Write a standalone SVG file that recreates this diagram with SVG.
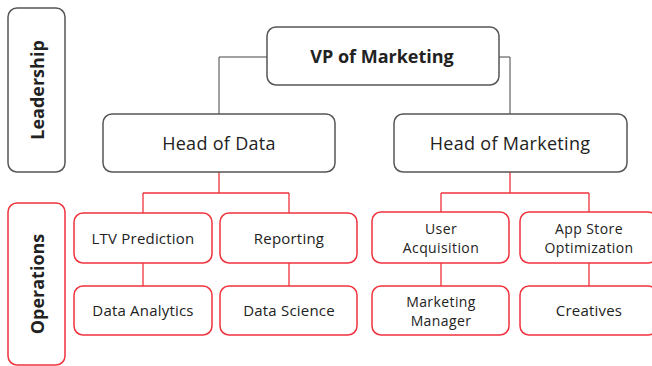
<svg xmlns="http://www.w3.org/2000/svg" width="652" height="366" viewBox="0 0 652 366">
<style>
.lead{fill:#fff;stroke:#555;stroke-width:1.5}
.op{fill:#fff;stroke:#f0323c;stroke-width:1.5}
.t{font-family:"Open Sans","Liberation Sans",sans-serif;fill:#222;text-anchor:middle;dominant-baseline:central}
.big{font-size:18px;letter-spacing:0.3px}
.sm{font-size:15px;letter-spacing:0.2px}
.two{font-size:14px;letter-spacing:0.4px}
.bold{font-weight:bold;letter-spacing:0}
.cg{fill:none;stroke:#444;stroke-width:1}
.cr{fill:none;stroke:#f0323c;stroke-width:1.3}
</style>
<rect width="652" height="366" fill="#fff"/>
<g id="connectors">
<path class="cg" d="M267 57H219V114"/>
<path class="cg" d="M499 57H510V114"/>
<path class="cr" d="M219 172V193M143 193H289M143 193V213M289 193V213"/>
<path class="cr" d="M510 172V193M441 193H589M441 193V212M589 193V212"/>
<path class="cr" d="M143 263V286M289 263V286M441 263V286M589 263V286"/>
</g>
<g id="leadership"><rect class="lead" x="8" y="8" width="57" height="164" rx="9"/><text class="t big bold" transform="translate(37 90) rotate(-90)">Leadership</text></g>
<g id="operations"><rect class="op" x="8" y="203" width="57" height="162" rx="9"/><text class="t big bold" transform="translate(37 284) rotate(-90)">Operations</text></g>
<g id="vp"><rect class="lead" x="267" y="27" width="232" height="58" rx="9"/><text class="t big bold" x="382" y="56">VP of Marketing</text></g>
<g id="head-data"><rect class="lead" x="103" y="114" width="232" height="58" rx="9"/><text class="t big" x="219" y="143">Head of Data</text></g>
<g id="head-marketing"><rect class="lead" x="394" y="114" width="233" height="58" rx="9"/><text class="t big" x="510" y="143">Head of Marketing</text></g>
<g id="ltv"><rect class="op" x="74" y="213" width="138" height="50" rx="9"/><text class="t sm" x="143" y="238">LTV Prediction</text></g>
<g id="reporting"><rect class="op" x="220" y="213" width="137" height="50" rx="9"/><text class="t sm" x="289" y="238">Reporting</text></g>
<g id="ua"><rect class="op" x="372" y="212" width="137" height="51" rx="9"/><text class="t two" x="441" y="228">User</text><text class="t two" x="441" y="247">Acquisition</text></g>
<g id="aso"><rect class="op" x="520" y="212" width="137" height="51" rx="9"/><text class="t two" x="589" y="228">App Store</text><text class="t two" x="589" y="247">Optimization</text></g>
<g id="da"><rect class="op" x="74" y="286" width="138" height="49" rx="9"/><text class="t sm" x="143" y="310">Data Analytics</text></g>
<g id="ds"><rect class="op" x="220" y="286" width="137" height="49" rx="9"/><text class="t sm" x="289" y="310">Data Science</text></g>
<g id="mm"><rect class="op" x="372" y="286" width="137" height="49" rx="9"/><text class="t two" x="441" y="301">Marketing</text><text class="t two" x="441" y="320">Manager</text></g>
<g id="cr"><rect class="op" x="520" y="286" width="137" height="49" rx="9"/><text class="t sm" x="589" y="310">Creatives</text></g>
</svg>
